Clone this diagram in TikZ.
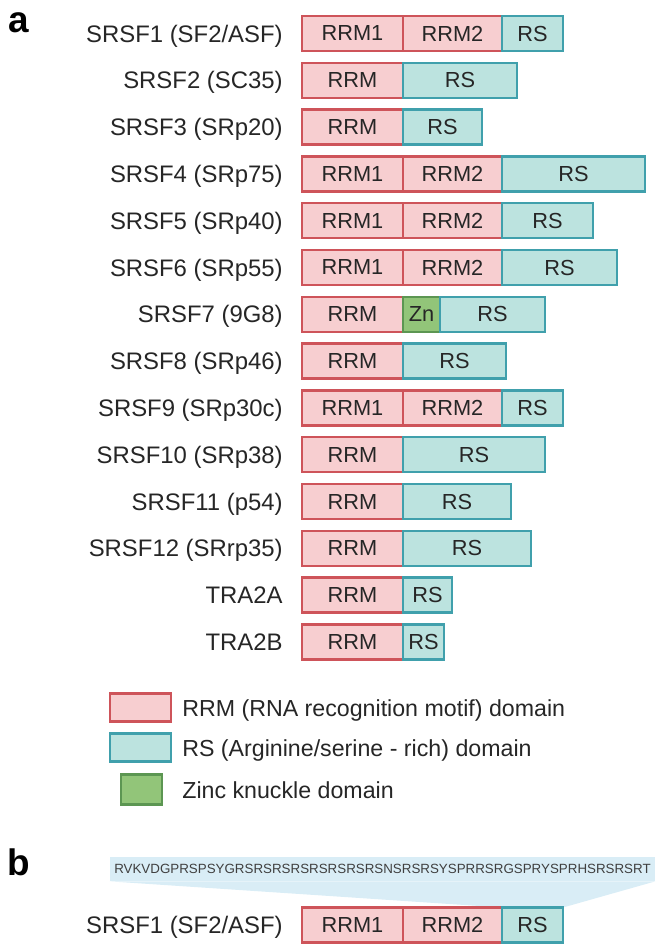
\documentclass[tikz,border=0pt]{standalone}
\usepackage{fontspec}
\setmainfont{Liberation Sans}
\usetikzlibrary{positioning, backgrounds}
\definecolor{rrmfill}{RGB}{247, 206, 208}
\definecolor{rrmline}{RGB}{206, 84, 90}
\definecolor{rsfill}{RGB}{188, 227, 223}
\definecolor{rsline}{RGB}{64, 160, 172}
\definecolor{znfill}{RGB}{146, 197, 121}
\definecolor{znline}{RGB}{92, 150, 82}
\definecolor{seqband}{RGB}{217, 237, 246}

\begin{document}
\begin{tikzpicture}[x=0.02cm, y=-0.02cm,
    dom/.style={draw, line width=1.3pt, inner sep=0pt, outer sep=0pt, minimum height=0.70cm,
                font=\fontsize{12.4}{14}\selectfont, text=black!85},
    rrmbox/.style={dom, fill=rrmfill, draw=rrmline, minimum width={(#1)*0.02cm}},
    rsbox/.style={dom, fill=rsfill, draw=rsline, minimum width={(#1)*0.02cm}},
    znbox/.style={dom, fill=znfill, draw=znline, minimum width={(#1)*0.02cm}},
    rowlabel/.style={anchor=base east, inner sep=0pt, font=\fontsize{13.6}{16}\selectfont, text=black!85},
    keytext/.style={anchor=base west, inner sep=0pt, font=\fontsize{13.2}{15}\selectfont, text=black!85},
    panel/.style={anchor=base west, inner sep=0pt, font=\fontsize{21}{24}\selectfont\bfseries}]
  \useasboundingbox (0,0) rectangle (661,950);

  \node[panel] (pa) at (8,32) {a};
  \node[panel] (pb) at (7,875) {b};

  % two RRM domains
  \foreach \n/\lab/\e in {1/{SRSF1 (SF2/ASF)}/563, 4/{SRSF4 (SRp75)}/645,
                          5/{SRSF5 (SRp40)}/593, 6/{SRSF6 (SRp55)}/617,
                          9/{SRSF9 (SRp30c)}/563}{
    \pgfmathsetmacro{\y}{33.5+46.8*(\n-1)}
    \node[rowlabel] (lab\n) at (283,\y+8.5) {\lab};
    \node[rrmbox=101, anchor=west] (rrma\n) at (302,\y) {RRM1};
    \node[rrmbox=99, right=0pt of rrma\n] (rrmb\n) {RRM2};
    \node[rsbox=\e-502, right=0pt of rrmb\n] (rs\n) {RS};
  }

  % one RRM domain
  \foreach \n/\lab/\e in {2/{SRSF2 (SC35)}/517, 3/{SRSF3 (SRp20)}/482,
                          8/{SRSF8 (SRp46)}/506, 10/{SRSF10 (SRp38)}/545,
                          11/{SRSF11 (p54)}/511, 12/{SRSF12 (SRrp35)}/531,
                          13/TRA2A/452, 14/TRA2B/444}{
    \pgfmathsetmacro{\y}{33.5+46.8*(\n-1)}
    \node[rowlabel] (lab\n) at (283,\y+8.5) {\lab};
    \node[rrmbox=101, anchor=west] (rrm\n) at (302,\y) {RRM};
    \node[rsbox=\e-403, right=0pt of rrm\n] (rs\n) {RS};
  }

  % zinc knuckle
  \node[rowlabel] (lab7) at (283,322.8) {SRSF7 (9G8)};
  \node[rrmbox=101, anchor=west] (rrm7) at (302,314.3) {RRM};
  \node[znbox=37, right=0pt of rrm7] (zn7) {Zn};
  \node[rsbox=105, right=0pt of zn7] (rs7) {RS};

  % legend
  \node[rrmbox=61, minimum height=0.56cm] (keyrrm) at (140.5,707.5) {};
  \node[rsbox=61, minimum height=0.56cm] (keyrs) at (140.5,747.5) {};
  \node[znbox=41, minimum height=0.60cm] (keyzn) at (141.5,789.5) {};
  \node[keytext] (txtrrm) at (182,716) {RRM (RNA recognition motif) domain};
  \node[keytext] (txtrs) at (182,756) {RS (Arginine/serine - rich) domain};
  \node[keytext] (txtzn) at (182,798) {Zinc knuckle domain};

  % panel b
  \node[fill=seqband, minimum width=545*0.02cm, minimum height=24*0.02cm, inner sep=0pt,
        font=\fontsize{7.6}{9}\selectfont, text=black!75] (seq) at (382.5,869)
        {RVKVDGPRSPSYGRSRSRSRSRSRSRSRSNSRSRSYSPRRSRGSPRYSPRHSRSRSRT};
  \node[rowlabel] (labb) at (283,933.5) {SRSF1 (SF2/ASF)};
  \node[rrmbox=101, anchor=west] (rrmab) at (302,925) {RRM1};
  \node[rrmbox=99, right=0pt of rrmab] (rrmbb) {RRM2};
  \node[rsbox=61, right=0pt of rrmbb] (rsb) {RS};
  \begin{scope}[on background layer]
    \fill[seqband] (seq.south west) -- (rsb.north west) -- (rsb.north east)
      -- (seq.south east) -- cycle;
  \end{scope}
\end{tikzpicture}
\end{document}
